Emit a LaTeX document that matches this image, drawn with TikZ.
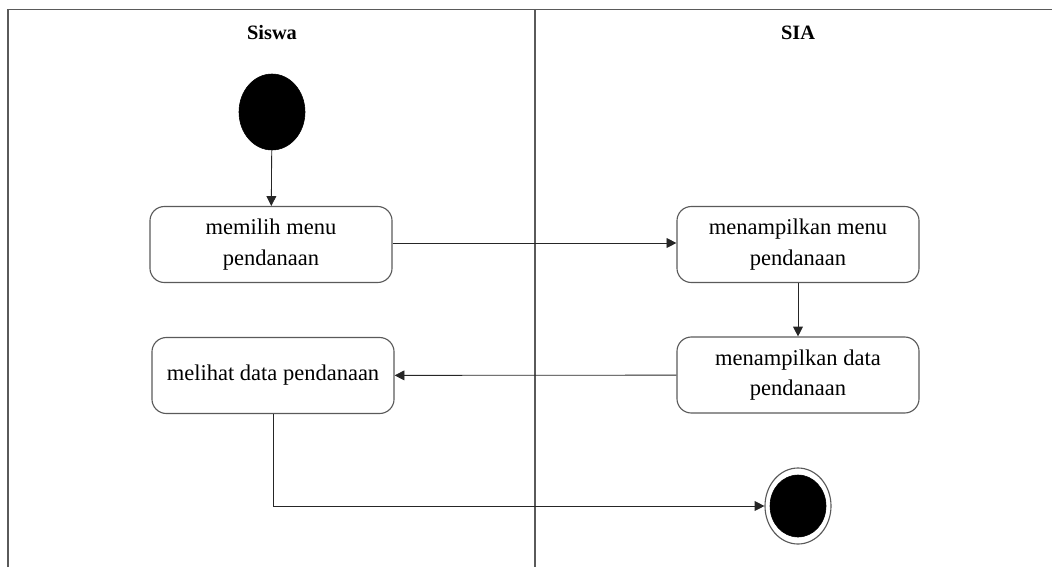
\documentclass[tikz,border=0pt]{standalone}
\usepackage{fontspec}
\setmainfont{Liberation Serif}
\usepackage{tikz}
\usetikzlibrary{shapes.geometric,arrows.meta,positioning}
\definecolor{LineGray}{RGB}{90,90,90}

\begin{document}
\begin{tikzpicture}[
    x=0.025cm, y=-0.025cm,
    actbox/.style={rectangle, draw=LineGray, thick, rounded corners=0.36cm, minimum width=6.05cm, minimum height=1.9cm, align=center, inner sep=2pt, font=\fontsize{16}{21.5}\selectfont},
    lanetitle/.style={font=\fontsize{14.5}{17}\selectfont\bfseries},
    startnode/.style={ellipse, fill=black, draw=black, minimum width=1.65cm, minimum height=1.9cm, inner sep=0pt},
    flow/.style={-{Triangle[length=7pt,width=7pt]}, draw=black!85, semithick},
    lane/.style={draw=LineGray, line width=1.1pt}
]
    \useasboundingbox (0,0) rectangle (1052,567);

    % swimlanes
    \draw[lane] (8,567) -- (8,9.5) -- (1052,9.5);
    \draw[lane] (535,9.5) -- (535,567);
    \node[lanetitle] (siswa) at (272,33) {Siswa};
    \node[lanetitle] (sia) at (798,33) {SIA};

    % activities
    \node[startnode] (start) at (272,112) {};
    \node[actbox] (pilih) at (271,244.5) {memilih menu\\pendanaan};
    \node[actbox] (menu) at (798,244.5) {menampilkan menu\\pendanaan};
    \node[actbox] (tampil) at (798,375) {menampilkan data\\pendanaan};
    \node[actbox] (lihat) at (273,375.5) {melihat data pendanaan};
    \node[ellipse, draw=LineGray, thick, fill=white, minimum width=1.65cm, minimum height=1.9cm] (final) at (798,506) {};
    \node[startnode, minimum width=1.4cm, minimum height=1.55cm] (finalin) at (final) {};

    \draw[flow] (start) -- (pilih);
    \draw[flow] (pilih.east |- 0,243) -- (menu.west |- 0,243);
    \draw[flow] (menu) -- (tampil);
    \draw[flow] (tampil) -- (lihat);
    \draw[flow] (lihat.south) |- (final.west);
\end{tikzpicture}
\end{document}
